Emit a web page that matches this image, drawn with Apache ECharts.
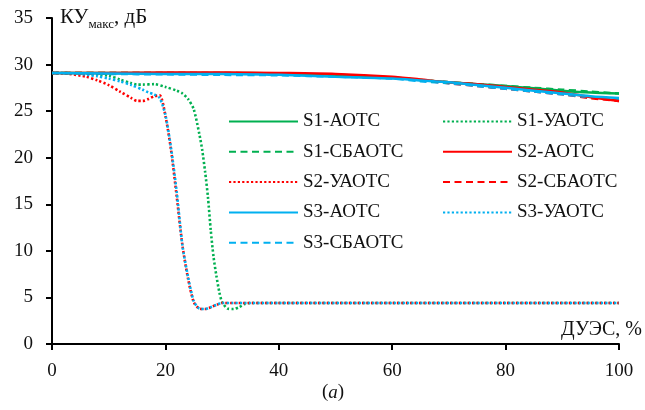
<!DOCTYPE html>
<html>
<head>
<meta charset="utf-8">
<script src="https://cdn.jsdelivr.net/npm/echarts@6/dist/echarts.min.js"></script>
<style>
  html, body { margin: 0; padding: 0; background: #fff; }
  #chart { width: 645px; height: 410px; }
</style>
</head>
<body>
<div id="chart"></div>
<script>
// ДУЭС, % — shared abscissa for the АОТС / СБАОТС curves
const xBase = [0, 10, 20, 30, 40, 50, 60, 65, 70, 75, 80, 85, 90, 95, 100];

const s1Aotc   = [29.1, 29.1, 29.1, 29.1, 29.05, 28.9, 28.6, 28.35, 28.1, 27.9, 27.7, 27.45, 27.2, 27.0, 26.9];
const s1Sbaotc = [29.1, 29.1, 29.1, 29.05, 29.0, 28.85, 28.6, 28.35, 28.1, 27.9, 27.7, 27.5, 27.3, 27.1, 26.9];
const s2Aotc   = [29.1, 29.1, 29.15, 29.15, 29.1, 29.0, 28.7, 28.4, 28.1, 27.9, 27.6, 27.3, 27.0, 26.5, 26.1];
const s2Sbaotc = [29.1, 29.1, 29.1, 29.1, 29.0, 28.9, 28.6, 28.3, 28.0, 27.7, 27.4, 27.1, 26.8, 26.4, 26.1];
const s3Aotc   = [29.1, 29.05, 29.0, 29.0, 28.9, 28.7, 28.5, 28.3, 28.1, 27.8, 27.5, 27.2, 26.9, 26.6, 26.4];
const s3Sbaotc = [29.1, 29.0, 28.95, 28.9, 28.85, 28.7, 28.5, 28.2, 28.0, 27.7, 27.4, 27.1, 26.8, 26.5, 26.3];

// УАОТС curves, sampled more densely around the drop
const xS1Uaotc = [0, 5, 10, 12, 14, 15, 16, 18, 20, 22, 23, 24, 25, 26, 26.5, 27, 27.5, 28, 28.5, 29, 29.5, 30, 31, 32, 33, 34, 35, 40, 60, 80, 100];
const s1Uaotc  = [29.1, 29.05, 28.8, 28.4, 28.0, 27.85, 27.85, 27.9, 27.6, 27.2, 26.9, 26.3, 25.2, 22.5, 20.8, 18.5, 15.8, 12.2, 9.3, 7.3, 5.6, 4.5, 3.8, 3.75, 3.95, 4.3, 4.4, 4.4, 4.4, 4.4, 4.4];

const xS2Uaotc = [0, 3, 6, 8, 10, 12, 14, 15, 16, 17, 18, 19, 20, 21, 22, 23, 24, 25, 26, 27, 28, 29, 30, 32, 35, 40, 60, 80, 100];
const s2Uaotc  = [29.1, 29.0, 28.7, 28.3, 27.8, 27.1, 26.4, 26.1, 26.1, 26.3, 26.6, 26.7, 24.5, 20.8, 15.8, 10.6, 7.0, 4.5, 3.8, 3.75, 3.95, 4.2, 4.4, 4.4, 4.4, 4.4, 4.4, 4.4, 4.4];

const xS3Uaotc = [0, 4, 8, 10, 12, 14, 16, 17, 18, 19, 20, 21, 22, 23, 24, 25, 26, 27, 28, 29, 30, 32, 35, 40, 60, 80, 100];
const s3Uaotc  = [29.1, 29.05, 28.75, 28.5, 28.2, 27.8, 27.3, 27.0, 26.8, 26.4, 24.6, 21.0, 16.3, 10.6, 7.2, 4.6, 3.8, 3.75, 3.95, 4.2, 4.4, 4.4, 4.4, 4.4, 4.4, 4.4, 4.4];

const yTicks = { min: 0, max: 35, step: 5 };
const xTicks = { min: 0, max: 100, step: 20 };

const GREEN = '#00B050', RED = '#FF0000', BLUE = '#00B0F0';
const FONT = 'Liberation Serif';

const pairs = (xs, ys) => xs.map((x, i) => [x, ys[i]]);

function line(name, xs, ys, color, kind) {
  const style = { color: color, width: 2.5 };
  if (kind === 'dash') { style.type = [7, 4.5]; }
  if (kind === 'dot') { style.type = [2.2, 2.2]; style.width = 2.6; }
  return {
    name: name,
    type: 'line',
    data: pairs(xs, ys),
    symbol: 'none',
    smooth: kind === 'dot' ? 0.25 : 0.3,
    color: color,
    lineStyle: style,
    itemStyle: { color: color }
  };
}

const series = [
  line('S1-УАОТС', xS1Uaotc, s1Uaotc, GREEN, 'dot'),
  line('S2-УАОТС', xS2Uaotc, s2Uaotc, RED, 'dot'),
  line('S3-УАОТС', xS3Uaotc, s3Uaotc, BLUE, 'dot'),
  line('S1-СБАОТС', xBase, s1Sbaotc, GREEN, 'dash'),
  line('S2-СБАОТС', xBase, s2Sbaotc, RED, 'dash'),
  line('S3-СБАОТС', xBase, s3Sbaotc, BLUE, 'dash'),
  line('S1-АОТС', xBase, s1Aotc, GREEN, 'solid'),
  line('S2-АОТС', xBase, s2Aotc, RED, 'solid'),
  line('S3-АОТС', xBase, s3Aotc, BLUE, 'solid')
];

const legendCommon = {
  orient: 'vertical',
  top: 112,
  padding: 0,
  itemWidth: 69,
  itemHeight: 18,
  itemGap: 11.3,
  itemStyle: { opacity: 0 },
  textStyle: { fontFamily: FONT, fontSize: 19, color: '#111', lineHeight: 18 }
};

const chart = echarts.init(document.getElementById('chart'), null, { renderer: 'canvas' });
chart.setOption({
  animation: false,
  backgroundColor: '#fff',
  grid: { left: 52, right: 26, top: 18, bottom: 66 },
  legend: [
    Object.assign({ left: 228, data: ['S1-АОТС', 'S1-СБАОТС', 'S2-УАОТС', 'S3-АОТС', 'S3-СБАОТС'] }, legendCommon),
    Object.assign({ left: 442, data: ['S1-УАОТС', 'S2-АОТС', 'S2-СБАОТС', 'S3-УАОТС'] }, legendCommon)
  ],
  xAxis: {
    type: 'value',
    min: xTicks.min, max: xTicks.max, interval: xTicks.step,
    axisLine: { lineStyle: { color: '#000', width: 2 } },
    axisTick: { show: true, length: 6, lineStyle: { color: '#000', width: 2 } },
    axisLabel: { fontFamily: FONT, fontSize: 19, color: '#111', margin: 18 },
    splitLine: { show: false }
  },
  yAxis: {
    type: 'value',
    min: yTicks.min, max: yTicks.max, interval: yTicks.step,
    axisLine: { show: true, lineStyle: { color: '#000', width: 2 } },
    axisTick: { show: true, length: 6, lineStyle: { color: '#000', width: 2 } },
    axisLabel: { fontFamily: FONT, fontSize: 19, color: '#111', margin: 19 },
    splitLine: { show: false }
  },
  graphic: [
    {
      type: 'text', left: 60, top: 7,
      style: {
        text: '{m|КУ}{s|макс}{m|, дБ}',
        rich: {
          m: { fontFamily: FONT, fontSize: 21, fill: '#111', verticalAlign: 'bottom' },
          s: { fontFamily: FONT, fontSize: 13, fill: '#111', verticalAlign: 'bottom', padding: [0, 0, -3, 0] }
        }
      }
    },
    {
      type: 'text', right: 3, top: 320,
      style: { text: 'ДУЭС, %', fontFamily: FONT, fontSize: 20, fill: '#111' }
    },
    {
      type: 'text', left: 322, top: 383,
      style: {
        text: '({i|a})',
        fontFamily: FONT, fontSize: 19, fill: '#111',
        rich: { i: { fontFamily: FONT, fontSize: 19, fontStyle: 'italic', fill: '#111' } }
      }
    }
  ],
  series: series
});
</script>
</body>
</html>
